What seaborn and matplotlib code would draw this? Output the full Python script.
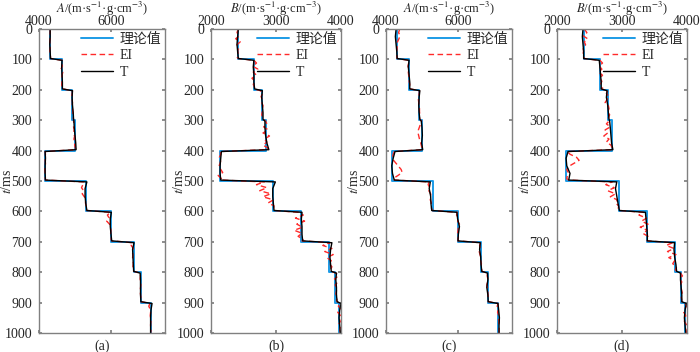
import numpy as np
import pandas as pd
import seaborn as sns
import matplotlib.pyplot as plt

# layer tops (ms) and theoretical values
layer_top = [0, 100, 200, 300, 400, 500, 600, 700, 800, 900]
A_true = [4310, 4640, 4925, 5000, 4170, 5300, 6010, 6630, 6820, 7110]
B_true = [2410, 2665, 2780, 2840, 2145, 2960, 3390, 3820, 3910, 3975]

# sample times inside each layer for the inverted curves
T_offsets = [3, 25, 50, 75, 97]
EI_offsets = [3, 12, 22, 32, 42, 52, 62, 72, 82, 92, 97]

# panel (a): A from T / EI
A1_T = [4310, 4310, 4300, 4310, 4320,
        4640, 4630, 4640, 4650, 4650,
        4930, 4920, 4930, 4950, 4960,
        4970, 4980, 5000, 5020, 5030,
        4170, 4180, 4170, 4170, 4180,
        5330, 5280, 5280, 5300, 5330,
        6010, 5980, 5980, 6000, 6020,
        6640, 6600, 6610, 6620, 6630,
        6810, 6820, 6820, 6820, 6830,
        7140, 7110, 7100, 7100, 7100]
A1_EI = [4310, 4310, 4300, 4310, 4300, 4310, 4310, 4300, 4310, 4320, 4320,
         4640, 4620, 4650, 4610, 4660, 4640, 4630, 4640, 4630, 4640, 4650,
         4930, 4920, 4910, 4920, 4930, 4920, 4930, 4940, 4940, 4950, 4960,
         4960, 4970, 4960, 4980, 4950, 4990, 4970, 5000, 4990, 5010, 5030,
         4170, 4180, 4160, 4170, 4180, 4170, 4160, 4170, 4180, 4170, 4180,
         5250, 5220, 5180, 5240, 5200, 5260, 5300, 5290, 5310, 5300, 5330,
         5990, 5900, 5950, 5880, 5960, 5980, 6000, 5990, 6010, 6000, 6020,
         6600, 6560, 6620, 6590, 6610, 6600, 6610, 6620, 6610, 6620, 6630,
         6810, 6820, 6810, 6820, 6830, 6820, 6810, 6820, 6830, 6820, 6830,
         7080, 7050, 7090, 7100, 7090, 7100, 7110, 7100, 7100, 7110, 7100]

# panel (b): B from T / EI
B1_T = [2420, 2410, 2400, 2410, 2420,
        2660, 2650, 2660, 2660, 2670,
        2790, 2780, 2790, 2800, 2800,
        2830, 2830, 2840, 2860, 2890,
        2160, 2150, 2140, 2140, 2150,
        2990, 2950, 2950, 2960, 2970,
        3400, 3390, 3400, 3400, 3410,
        3860, 3840, 3830, 3840, 3850,
        3930, 3920, 3930, 3930, 3940,
        4000, 3980, 3970, 3980, 3990]
B1_EI = [2420, 2400, 2440, 2380, 2450, 2400, 2430, 2410, 2420, 2400, 2420,
         2660, 2700, 2640, 2720, 2650, 2700, 2630, 2680, 2650, 2670, 2660,
         2760, 2800, 2770, 2790, 2780, 2800, 2790, 2790, 2780, 2800, 2800,
         2840, 2860, 2810, 2880, 2800, 2900, 2820, 2860, 2800, 2880, 2860,
         2140, 2150, 2130, 2150, 2140, 2120, 2150, 2180, 2110, 2160, 2150,
         2820, 2700, 2860, 2750, 2920, 2800, 2960, 2880, 2970, 2960, 2970,
         3350, 3420, 3300, 3440, 3320, 3410, 3280, 3400, 3340, 3420, 3400,
         3830, 3720, 3860, 3750, 3880, 3780, 3850, 3820, 3860, 3840, 3850,
         3920, 3960, 3900, 3950, 3910, 3940, 3930, 3920, 3950, 3930, 3940,
         3990, 3960, 4000, 3950, 3990, 3970, 3990, 3960, 3990, 3980, 3990]

# panel (c): A, second case
A2_T = [4280, 4260, 4280, 4300, 4310,
        4640, 4620, 4640, 4660, 4660,
        4940, 4920, 4910, 4920, 4940,
        4980, 5000, 5010, 4990, 5020,
        4250, 4200, 4160, 4180, 4230,
        5230, 5200, 5240, 5250, 5270,
        5970, 5990, 6040, 6010, 6000,
        6620, 6600, 6630, 6640, 6660,
        6820, 6830, 6800, 6830, 6840,
        7110, 7130, 7150, 7140, 7140]
A2_EI = [4380, 4350, 4390, 4360, 4320, 4300, 4310, 4300, 4310, 4300, 4310,
         4640, 4630, 4610, 4640, 4620, 4630, 4650, 4640, 4660, 4650, 4660,
         4930, 4920, 4910, 4900, 4910, 4920, 4930, 4930, 4940, 4930, 4940,
         4990, 4960, 4930, 4900, 4890, 4910, 4930, 4960, 4980, 5000, 5020,
         4230, 4200, 4180, 4210, 4280, 4350, 4420, 4450, 4330, 4200, 4240,
         5200, 5170, 5220, 5190, 5240, 5250, 5230, 5260, 5250, 5270, 5280,
         5980, 5960, 6010, 5990, 6040, 6010, 6000, 5990, 6010, 6000, 6000,
         6630, 6600, 6620, 6590, 6610, 6640, 6630, 6650, 6640, 6660, 6660,
         6820, 6810, 6830, 6820, 6800, 6820, 6830, 6830, 6840, 6830, 6840,
         7110, 7090, 7120, 7100, 7130, 7120, 7140, 7130, 7140, 7140, 7140]

# panel (d): B, second case
B2_T = [2400, 2390, 2400, 2410, 2410,
        2650, 2660, 2670, 2680, 2680,
        2770, 2760, 2780, 2790, 2800,
        2810, 2820, 2830, 2840, 2860,
        2170, 2140, 2150, 2200, 2180,
        2920, 2900, 2920, 2940, 2960,
        3360, 3370, 3380, 3390, 3390,
        3810, 3800, 3810, 3830, 3840,
        3900, 3900, 3910, 3920, 3920,
        3990, 3970, 3960, 3970, 3980]
B2_EI = [2420, 2460, 2400, 2470, 2420, 2440, 2400, 2410, 2400, 2420, 2410,
         2660, 2700, 2650, 2690, 2640, 2700, 2660, 2690, 2670, 2700, 2680,
         2780, 2760, 2800, 2770, 2740, 2790, 2800, 2780, 2810, 2790, 2800,
         2800, 2760, 2820, 2740, 2780, 2720, 2800, 2760, 2830, 2850, 2860,
         2160, 2200, 2300, 2340, 2260, 2180, 2150, 2170, 2160, 2150, 2180,
         2850, 2750, 2880, 2780, 2900, 2820, 2930, 2900, 2950, 2940, 2960,
         3330, 3260, 3380, 3300, 3400, 3280, 3390, 3320, 3400, 3380, 3390,
         3780, 3680, 3800, 3700, 3830, 3720, 3810, 3780, 3840, 3820, 3840,
         3900, 3930, 3890, 3920, 3900, 3910, 3920, 3930, 3910, 3920, 3920,
         3970, 3990, 3960, 3950, 3980, 3970, 3960, 3990, 4000, 4000, 3990]


def sample_times(offsets):
    t = (np.array(layer_top)[:, None] + np.array(offsets)[None, :]).ravel().astype(float)
    t[0] = 0
    t[-1] = 1000
    return t


t_T = sample_times(T_offsets)
t_EI = sample_times(EI_offsets)
t_step = layer_top + [1000]

sns.set_theme(style='white')
plt.rcParams['font.family'] = ['Liberation Serif', 'Noto Sans CJK SC']
plt.rcParams['mathtext.fontset'] = 'stix'
plt.rcParams['axes.unicode_minus'] = False

fig = plt.figure(figsize=(7, 3.52), dpi=100)

panels = [
    ('(a)', A_true, A1_T, A1_EI, (4000, 7500), [4000, 6000], r'$A$/(m·s$^{-1}$·g·cm$^{-3}$)', 39, 126),
    ('(b)', B_true, B1_T, B1_EI, (2000, 4000), [2000, 3000, 4000], r'$B$/(m·s$^{-1}$·g·cm$^{-3}$)', 211, 130),
    ('(c)', A_true, A2_T, A2_EI, (4000, 7500), [4000, 6000], r'$A$/(m·s$^{-1}$·g·cm$^{-3}$)', 386, 126),
    ('(d)', B_true, B2_T, B2_EI, (2000, 4000), [2000, 3000, 4000], r'$B$/(m·s$^{-1}$·g·cm$^{-3}$)', 557, 130),
]

edge = '#808080'
for tag, truth, tv, ev, xlim, xticks, xlab, left_px, w_px in panels:
    ax = fig.add_axes([left_px / 700, 1 - 333 / 352, w_px / 700, 304 / 352])

    sns.lineplot(x=truth + [truth[-1]], y=t_step, ax=ax, sort=False, estimator=None,
                 color='#1c9be6', linewidth=1.4, drawstyle='steps-pre', label='理论值')
    sns.lineplot(x=ev, y=t_EI, ax=ax, sort=False, estimator=None,
                 color='#ff2a2a', linewidth=1.0, linestyle=(0, (4, 2.5)), label='EI')
    sns.lineplot(x=tv, y=t_T, ax=ax, sort=False, estimator=None,
                 color='black', linewidth=1.0, label='T')

    ax.set_xlim(*xlim)
    ax.set_ylim(1000, 0)
    ax.set_xticks(xticks)
    ax.set_yticks(np.arange(0, 1001, 100))
    ax.xaxis.set_label_position('top')
    ax.set_xlabel(xlab, fontsize=9, labelpad=1.5)
    ax.set_ylabel(r'$t$/ms', fontsize=10)
    ax.yaxis.set_label_coords(-25 / w_px, 0.5)
    ax.tick_params(axis='x', top=True, bottom=True, labeltop=True, labelbottom=False,
                   direction='in', length=2.5, color=edge, labelsize=10, pad=1)
    ax.tick_params(axis='y', left=True, right=True, direction='in', length=2.5,
                   color=edge, labelsize=10, pad=5)
    for s in ax.spines.values():
        s.set_color(edge)
        s.set_linewidth(1.0)

    ax.legend(loc='upper right', frameon=False, fontsize=10, handlelength=2.3,
              handletextpad=0.5, labelspacing=0.25, borderpad=0.1, borderaxespad=0.15)
    ax.text(0.5, -0.02, tag, transform=ax.transAxes, ha='center', va='top', fontsize=10)

fig.savefig('out.png', dpi=100)
plt.close(fig)
